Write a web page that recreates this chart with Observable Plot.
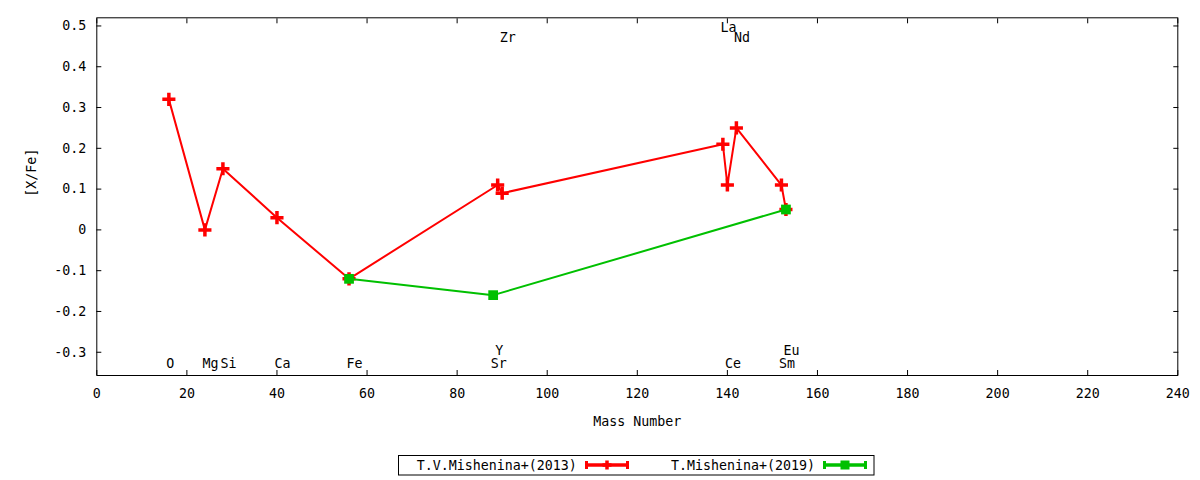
<!DOCTYPE html>
<html>
<head>
<meta charset="utf-8">
<script src="https://cdn.jsdelivr.net/npm/d3@7"></script>
<script src="https://cdn.jsdelivr.net/npm/@observablehq/plot@0.6"></script>
<style>
  html, body { margin: 0; padding: 0; background: #fff; }
  body { width: 1200px; height: 480px; position: relative; overflow: hidden; font-family: "DejaVu Sans Mono", monospace; }
  #legend { position: absolute; left: 398px; top: 455px; }
</style>
</head>
<body>
<div id="chart"></div>
<div id="legend"></div>
<script>
// ---- data ----
const elements    = ["O", "Mg", "Si", "Ca", "Fe", "Sr", "Y", "Zr", "La", "Ce", "Nd", "Sm", "Eu"];
const massNumbers = [16, 24, 28, 40, 56, 88, 89, 90, 139, 140, 142, 152, 153];
const labelLevels = [-0.328, -0.328, -0.328, -0.328, -0.328, -0.328, -0.296, 0.471, 0.496, -0.328, 0.471, -0.328, -0.296];

const series2013Name   = "T.V.Mishenina+(2013)";
const series2013Mass   = [16, 24, 28, 40, 56, 89, 90, 139, 140, 142, 152, 153];
const series2013Values = [0.32, 0.00, 0.15, 0.03, -0.12, 0.11, 0.09, 0.21, 0.11, 0.25, 0.11, 0.05];

const series2019Name   = "T.Mishenina+(2019)";
const series2019Mass   = [56, 88, 153];
const series2019Values = [-0.12, -0.16, 0.05];

const xTicks = [0, 20, 40, 60, 80, 100, 120, 140, 160, 180, 200, 220, 240];
const yTicks = [-0.3, -0.2, -0.1, 0, 0.1, 0.2, 0.3, 0.4, 0.5];
const xLabel = "Mass Number";
const yLabel = "[X/Fe]";

// ---- tables ----
const labelTable = elements.map((e, i) => ({element: e, mass: massNumbers[i], level: labelLevels[i]}));
const t2013 = series2013Mass.map((m, i) => ({mass: m, value: series2013Values[i]}));
const t2019 = series2019Mass.map((m, i) => ({mass: m, value: series2019Values[i]}));

const RED = "#ff0000", GREEN = "#00c000";
const fmtY = d => d === 0 ? "0" : d.toFixed(1);
const blank = () => "";

const chart = Plot.plot({
  width: 1200,
  height: 445,
  marginLeft: 96.3,
  marginRight: 22.7,
  marginTop: 17.3,
  marginBottom: 70,
  x: {domain: [0, 240]},
  y: {domain: [-0.357, 0.52]},
  style: {fontFamily: "DejaVu Sans Mono", fontSize: "13.3px", color: "#000", background: "#fff"},
  marks: [
    Plot.axisX(xTicks, {anchor: "bottom", tickSize: 0, tickPadding: 13, tickFormat: d => String(d), label: null}),
    Plot.axisX(xTicks, {anchor: "bottom", tickSize: -5, tickFormat: blank, label: null}),
    Plot.axisX(xTicks, {anchor: "top", tickSize: -5, tickFormat: blank, label: null}),
    Plot.axisY(yTicks, {anchor: "left", tickSize: 0, tickPadding: 10.5, tickFormat: fmtY, label: null}),
    Plot.axisY(yTicks, {anchor: "left", tickSize: -5, tickFormat: blank, label: null}),
    Plot.axisY(yTicks, {anchor: "right", tickSize: -5, tickFormat: blank, label: null}),
    Plot.frame({stroke: "#000", strokeWidth: 1}),
    Plot.text([xLabel], {frameAnchor: "bottom", dy: 50, fill: "#000"}),
    Plot.text([yLabel], {frameAnchor: "left", dx: -65, rotate: -90, fill: "#000"}),
    Plot.text(labelTable, {x: "mass", y: "level", text: "element", textAnchor: "start", dx: -2.5, fill: "#000"}),
    Plot.line(t2013, {x: "mass", y: "value", stroke: RED, strokeWidth: 2}),
    Plot.dot(t2013, {x: "mass", y: "value", symbol: "plus", r: 4.3, stroke: RED, strokeWidth: 3.5}),
    Plot.line(t2019, {x: "mass", y: "value", stroke: GREEN, strokeWidth: 2}),
    Plot.dot(t2019, {x: "mass", y: "value", symbol: "square", r: 5.5, fill: GREEN, stroke: "none"})
  ]
});
document.getElementById("chart").appendChild(chart);

// ---- legend (below the plot) ----
const lg = d3.select("#legend").append("svg")
  .attr("width", 477).attr("height", 21)
  .style("font-family", "DejaVu Sans Mono").style("font-size", "13.3px");
lg.append("rect").attr("x", 0.5).attr("y", 0.5).attr("width", 475.5).attr("height", 19.5)
  .attr("fill", "none").attr("stroke", "#000");
const legendItems = [
  {name: series2013Name, color: RED, tx: 18.7, x0: 187, x1: 231, mx: 209, plus: true},
  {name: series2019Name, color: GREEN, tx: 273, x0: 425, x1: 469, mx: 447, plus: false}
];
for (const it of legendItems) {
  lg.append("text").attr("x", it.tx).attr("y", 10.2).attr("dominant-baseline", "central")
    .attr("fill", "#000").text(it.name);
  lg.append("line").attr("x1", it.x0).attr("x2", it.x1).attr("y1", 10).attr("y2", 10)
    .attr("stroke", it.color).attr("stroke-width", 3.5);
  for (const cx of [it.x0 + 1.5, it.x1 - 1.5]) {
    lg.append("line").attr("x1", cx).attr("x2", cx).attr("y1", 6).attr("y2", 14)
      .attr("stroke", it.color).attr("stroke-width", 3);
  }
  if (it.plus) {
    lg.append("path").attr("d", `M${it.mx - 4.5},10H${it.mx + 4.5}M${it.mx},5.5V14.5`)
      .attr("stroke", it.color).attr("stroke-width", 3.5).attr("fill", "none");
  } else {
    lg.append("rect").attr("x", it.mx - 4.5).attr("y", 5.5).attr("width", 9).attr("height", 9)
      .attr("fill", it.color);
  }
}
</script>
</body>
</html>
